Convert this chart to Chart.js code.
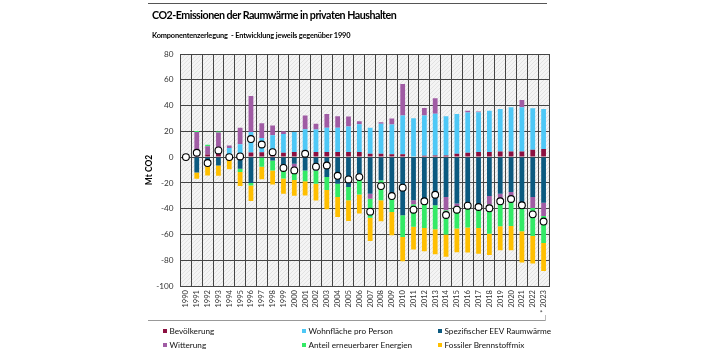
<!DOCTYPE html>
<html><head><meta charset="utf-8">
<script src="https://cdn.jsdelivr.net/npm/chart.js@4.4.1/dist/chart.umd.min.js"></script>
<style>
html,body{margin:0;padding:0;background:#fff;}
#wrap{position:relative;width:707px;height:354px;overflow:hidden;font-family:Lato,'Liberation Sans',sans-serif;}
#c{position:absolute;left:0;top:0;}
.t{position:absolute;white-space:nowrap;color:#000;font-weight:bold;line-height:1;}
.hl{position:absolute;height:0;}
.lg{position:absolute;white-space:nowrap;font-size:8.2px;color:#111;line-height:1;}
.lg i{display:inline-block;width:4.5px;height:4.5px;margin-right:2.5px;vertical-align:1px;}
</style></head>
<body>
<div id="wrap">
<canvas id="c" width="707" height="354"></canvas>
<div class="hl" style="left:148px;top:2.5px;width:399px;border-top:1.5px solid #555"></div>
<div class="t" style="left:152px;top:10px;font-size:10.7px;letter-spacing:-0.5px">CO2-Emissionen der Raumwärme in privaten Haushalten</div>
<div class="t" style="left:152px;top:32px;font-size:7.4px;letter-spacing:-0.15px">Komponentenzerlegung &nbsp;- Entwicklung jeweils gegenüber 1990</div>
<div class="hl" style="left:148px;top:319.5px;width:397px;border-top:1.5px solid #999"></div>
<div class="hl" style="left:545px;top:315px;width:0;height:6px;border-left:1px solid #bbb"></div>
<div id="legend"></div>
</div>
<script>
const years = ['1990','1991','1992','1993','1994','1995','1996','1997','1998','1999','2000','2001','2002','2003','2004','2005','2006','2007','2008','2009','2010','2011','2012','2013','2014','2015','2016','2017','2018','2019','2020','2021','2022','2023'];
const bevoelkerung = [0,0,2,2.5,1.5,3,3.5,3.8,3.5,3.4,3.9,3.9,4,4,4,4,4,2.6,2.6,2.3,2.3,0.5,1,1.3,1.3,2.6,3.4,3.9,3.9,4.4,4.4,4.4,5.7,6.2];
const wohnflaeche = [0,0,0,0,5.5,7,16,11,13.5,14.6,15.5,17.8,17.5,18.8,18.8,19.7,21.4,20.1,23.2,23,30,29.7,31.2,32.3,30.4,30.9,31.2,31,32,33,34.3,34.3,32.2,31.2];
const spezEEV = [0,-12,-6.5,-6.5,-1,-9,-20,-0.5,-2.6,-9,-5.2,-10.3,-10.3,-15.5,-20.6,-23.2,-17.5,-28.4,-18,-31,-45.2,-33.5,-36,-37.4,-31,-36,-37.7,-38.7,-30.2,-28.4,-27.1,-40,-31,-35.4];
const witterung = [0,19.5,6.5,16.5,2,12.7,28,11.5,7.5,2,-3,10.6,4.3,10.7,8.9,7.8,2.5,-3.9,1.3,4.7,24.5,-3.1,6,12.1,-10.3,-2,1.4,0.5,-6.5,-3.9,-3.9,5.7,-8.5,-10.3];
const erneuerbare = [0,0.7,1,0.8,0,-2.6,-2,-7,-7.8,-7.5,-9.5,-8.5,-10.3,-10,-10.3,-10.3,-11.6,-14.7,-15.5,-11.6,-16.8,-17.5,-19,-18.6,-18.8,-17.3,-17,-16.3,-22.7,-21.4,-22.5,-17.5,-21.7,-20.9];
const brennstoffmix = [0,-4.8,-7.7,-8,-8.5,-10.9,-12,-9.6,-10.9,-11.9,-12.3,-11,-13,-15,-15.5,-16,-14.7,-18,-16.3,-18,-18.8,-17.5,-18,-19.4,-17.3,-18.6,-19.4,-19.9,-16.5,-18.6,-18.8,-24.3,-21.4,-21.7];
const gesamt = [0,3.4,-4.6,5.2,0,0.5,14,9.8,3.8,-8.4,-10.3,2.6,-7.4,-6.5,-14.5,-17.3,-15.5,-42.3,-22.5,-30.2,-23.7,-40.8,-34.3,-29.2,-44.9,-40.8,-37.7,-38.7,-39.7,-34.3,-32.5,-37.4,-44.4,-50];
const seriesNames = ['Bevölkerung','Wohnfläche pro Person','Spezifischer EEV Raumwärme','Witterung','Anteil erneuerbarer Energien','Fossiler Brennstoffmix'];
const seriesData = [bevoelkerung, wohnflaeche, spezEEV, witterung, erneuerbare, brennstoffmix];
const seriesColors = ['#8c1040','#4ec8f6','#0c5a80','#a05ca4','#33ea66','#ffbf00'];
const yTicks = [80,60,40,20,0,-20,-40,-60,-80,-100];
const footnoteMark = '*';

const FONT = 'Lato, "Liberation Sans", sans-serif';

// legend
const lg = document.getElementById('legend');
const colX = [162.5, 301.5, 437.5], rowY = [327, 341];
seriesNames.forEach((n,i)=>{
  const d = document.createElement('div');
  d.className='lg';
  d.style.left = colX[i%3]+'px';
  d.style.top = rowY[Math.floor(i/3)]+'px';
  d.innerHTML = '<i style="background:'+seriesColors[i]+'"></i>'+n;
  lg.appendChild(d);
});

// hatch pattern
const pc = document.createElement('canvas'); pc.width=4; pc.height=4;
const px = pc.getContext('2d');
px.fillStyle='#f4f4f4'; px.fillRect(0,0,4,4);
px.fillStyle='#e2e2e2';
for(let k=0;k<4;k++){ px.fillRect(k,3-k,1,1); }
const bgPlugin = {id:'bg', beforeDraw(chart){
  const {ctx, chartArea:a} = chart;
  ctx.save(); ctx.fillStyle = ctx.createPattern(pc,'repeat');
  ctx.fillRect(a.left,a.top,a.right-a.left,a.bottom-a.top); ctx.restore();
}};

const datasets = [{
  type:'line', label:'Gesamt', data:gesamt, stack:'net', showLine:false, order:0,
  pointRadius:3.4, pointBackgroundColor:'#fff', pointBorderColor:'#000', pointBorderWidth:1.1
}];
seriesNames.forEach((n,i)=>datasets.push({
  type:'bar', label:n, data:seriesData[i], stack:'comp', order:1,
  backgroundColor:seriesColors[i], categoryPercentage:1, barPercentage:0.44, borderWidth:0
}));

new Chart(document.getElementById('c'), {
  data:{labels:years, datasets},
  options:{
    responsive:false, animation:false, devicePixelRatio:1,
    layout:{padding:{left:140, top:54, right:158, bottom:0}},
    plugins:{legend:{display:false}, tooltip:{enabled:false}},
    scales:{
      x:{stacked:true,
        grid:{color:'#454545', lineWidth:1, offset:true, drawTicks:false},
        border:{color:'#454545', width:1},
        ticks:{autoSkip:false, maxRotation:90, minRotation:90, padding:4, color:'#333',
          font:{family:FONT, size:7.6},
          callback:(v,i)=> i===years.length-1 ? footnoteMark+' '+years[i] : years[i]},
        afterFit(s){ s.height = 354-286; }
      },
      y:{stacked:true, min:-100, max:80,
        afterBuildTicks(s){ s.ticks = yTicks.map(v=>({value:v})); },
        grid:{color:'#454545', lineWidth:1, drawTicks:false},
        border:{color:'#454545', width:1},
        ticks:{padding:7, color:'#333', font:{family:FONT, size:8.2}},
        title:{display:true, text:'Mt CO2', color:'#000', font:{family:FONT, size:8.5, weight:'bold'}, padding:{top:4,bottom:0}},
        afterFit(s){ s.width = 40.5; }
      }
    }
  },
  plugins:[bgPlugin]
});
</script>
</body></html>
